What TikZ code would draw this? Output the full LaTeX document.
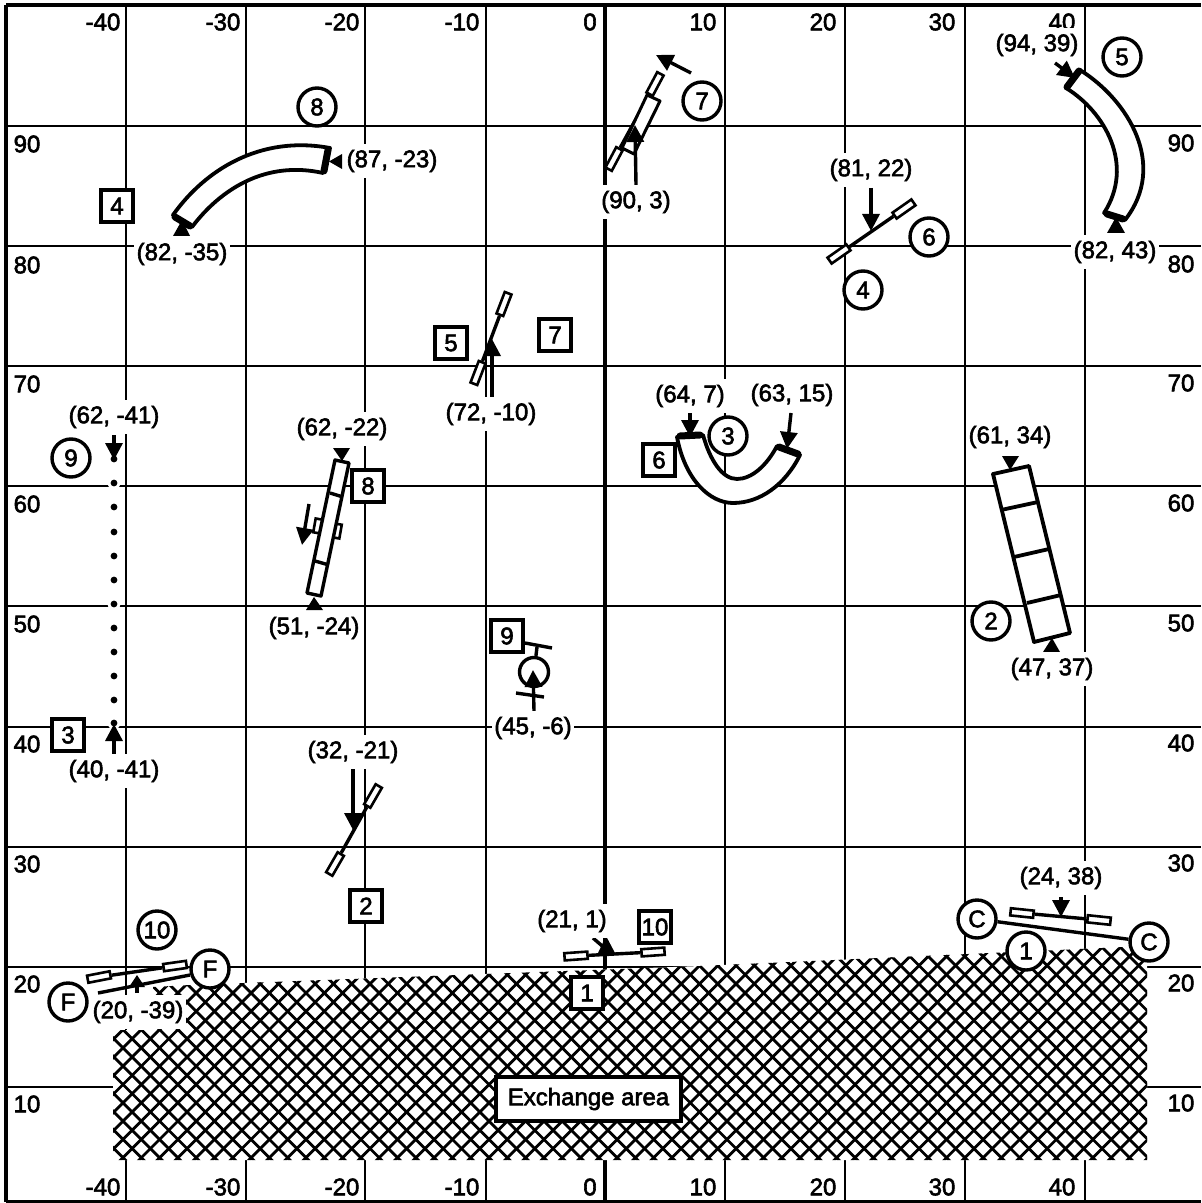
\documentclass[tikz,border=0pt]{standalone}
\usepackage{fontspec}
\usetikzlibrary{arrows.meta}
\newfontfamily\labfont{Liberation Sans}[FakeBold=2.4]
\tikzset{
  x=0.5pt,y=-0.5pt,
  every node/.style={font=\labfont\fontsize{12}{14}\selectfont},
  gridline/.style={line width=1pt,black},
  axisline/.style={line width=1.6pt,black},
  gl/.style={inner sep=0pt},
  lab/.style={fill=white,inner xsep=1.25pt,inner ysep=3pt},
  cir/.style={circle,draw,line width=1.7pt,fill=white,minimum size=19pt,inner sep=0pt},
  sq/.style={rectangle,draw,line width=1.8pt,fill=white,minimum size=16pt,inner sep=0pt},
  railpad/.style={rectangle,draw,line width=1.3pt,fill=white,minimum width=11.5pt,minimum height=3.6pt,inner sep=0pt},
  rail/.style={line width=1.7pt},
  piece/.style={draw,line width=1.9pt,fill=white,line join=round},
  capbar/.style={line width=3.5pt,line cap=round},
  arr/.style={line width=1.7pt,-{Triangle[length=8.5pt,width=8.5pt]}},
  hatchline/.style={line width=1.4pt},
}
\newcommand{\arrw}[5]{\coordinate (#1a) at (#2,#3); \coordinate (#1b) at (#4,#5); \draw[arr] (#1a) -- (#1b);}
\begin{document}
\begin{tikzpicture}
\useasboundingbox (0,0) rectangle (1201,1203);
% grid
\foreach \gx in {126,246,365,486,725,845,965,1085}
  \draw[gridline] (\gx,5) -- (\gx,1202);
\foreach \gy in {126,246,366,486,606,727,847,967,1087}
  \draw[gridline] (6,\gy) -- (1201,\gy);
\draw[axisline] (605,5) -- (605,1202);
\draw[axisline] (6,5) -- (6,1202);
\draw[axisline] (6,5) -- (1201,5);
\draw[axisline] (6,1202) -- (1201,1202);
% grid numbers
\foreach \gx/\gt in {103/-40,223/-30,342/-20,462/-10,590/0,703/10,823/20,942/30,1062/40}{
  \node[gl] at (\gx,22) {\gt};
  \node[gl] at (\gx,1187) {\gt};}
\foreach \gy/\gt in {144/90,265/80,384/70,504/60,624/50,744/40,864/30,984/20,1104/10}{
  \node[gl] at (27,\gy) {\gt};
  \node[gl] at (1181,\gy-1) {\gt};}
% exchange area
\fill[white] (113,1030) -- (113,1160) -- (1147,1160) -- (1147,946) -- (700,966) -- (190,985) -- (153,987) -- (153,1030) -- cycle;
\begin{scope}
\clip (113,1030) -- (113,1160) -- (1147,1160) -- (1147,946) -- (700,966) -- (190,985) -- (153,987) -- (153,1030) -- cycle;
\foreach \k in {-14,...,57}
  \draw[hatchline] ({1280.7+\k*18.3-935},935) -- ({1280.7+\k*18.3-1170},1170);
\foreach \k in {-2,...,70}
  \draw[hatchline] ({-1034.7+\k*18.3+935},935) -- ({-1034.7+\k*18.3+1170},1170);
\end{scope}
\node[rectangle,draw,line width=1.8pt,fill=white,minimum width=92.5pt,minimum height=22pt,inner sep=0pt] (exch) at (588.5,1099) {Exchange area};
% ---- position 1 (C-C)
\node[cir] (c1) at (977,919) {C};
\node[cir] (c2) at (1149,942) {C};
\draw[rail] (c1) -- (c2);
\node[railpad,rotate=-6] (p1a) at (1022,913) {};
\node[railpad,rotate=-6] (p1b) at (1099,920) {};
\draw[rail] (p1a) -- (p1b);
\arrw{a1}{1061}{897}{1061}{917}
\node[lab] (l1) at (1061,878) {(24, 38)};
\node[cir] (n1) at (1026,951) {1};
% ---- position 2 (block)
\path[piece] (993,474) -- (1029,466) -- (1070,633) -- (1034,642) -- cycle;
\coordinate (b2a) at (1001,510); \coordinate (b2b) at (1038,502);
\coordinate (b2c) at (1014,557); \coordinate (b2d) at (1049,549);
\coordinate (b2e) at (1027,603); \coordinate (b2f) at (1061,595);
\draw[line width=1.9pt] (b2a) -- (b2b) (b2c) -- (b2d) (b2e) -- (b2f);
\fill (1002,456) -- (1019,456) -- (1010,470) -- cycle;
\fill (1043,652) -- (1060,652) -- (1052,638) -- cycle;
\node[lab] (l2a) at (1010,437) {(61, 34)};
\node[lab] (l2b) at (1052,669) {(47, 37)};
\node[cir] (n2) at (991,621) {2};
% ---- rail 2
\node[railpad,rotate=60] (p2a) at (335,864) {};
\node[railpad,rotate=60] (p2b) at (373,796) {};
\draw[rail] (p2a) -- (p2b);
\arrw{a2}{353}{769}{353}{830}
\node[lab] (l3) at (353,752) {(32, -21)};
\node[sq] (s2) at (366,906) {2};
% ---- dotted line 9/3
\foreach \dy in {483,604,723}
  \fill[white] (114,\dy) circle[radius=3.2pt];
\foreach \dy in {459,483,507,532,556,580,604,628,652,676,700,723}
  \fill[black] (114,\dy) circle[radius=1.7pt];
\arrw{a3}{114}{435}{114}{460}
\arrw{a4}{114}{755}{114}{724}
\node[lab] (l4) at (114,417) {(62, -41)};
\node[lab] (l5) at (114,771) {(40, -41)};
\node[cir] (n9) at (71,458) {9};
\node[sq] (s3) at (68,735) {3};
% ---- position 4 / 6
\node[railpad,rotate=35] (p4a) at (839,254) {};
\node[railpad,rotate=35] (p4b) at (904,209) {};
\draw[rail] (p4a) -- (p4b);
\arrw{a5}{871}{188}{871}{231}
\node[lab] (l6) at (871,170) {(81, 22)};
\node[cir] (n6) at (929,237) {6};
\node[cir] (n4) at (863,290) {4};
% ---- position 7
\node[railpad,rotate=62] (p7a) at (614,159) {};
\node[railpad,rotate=62] (p7b) at (655,84) {};
\draw[rail] (p7a) -- (p7b);
\path[piece,line width=1.5pt] (660,101) -- (647,95) -- (622,148) -- (634,154) -- cycle;
\arrw{a6}{636}{185}{635}{125}
\arrw{a7}{691}{73}{656}{55}
\node[lab] (l7) at (636,202) {(90, 3)};
\node[cir] (n7) at (702,101) {7};
% ---- position 5 / box 7
\node[railpad,rotate=69] (p5a) at (478,373) {};
\node[railpad,rotate=69] (p5b) at (504,304) {};
\draw[rail] (p5a) -- (p5b);
\arrw{a8}{492}{397}{492}{339}
\node[lab] (l8) at (491,414) {(72, -10)};
\node[sq] (s5) at (451,343) {5};
\node[sq] (s7) at (555,335) {7};
% ---- curved piece 8 / 4
\path[piece] (173,215) .. controls (205,170) and (260,135) .. (330,148) -- (323,173) .. controls (265,160) and (220,190) .. (192,227) -- cycle;
\draw[capbar] (175,217) -- (190,226);
\draw[capbar] (328,150) -- (324,171);
\fill (342,154) -- (342,169) -- (329,161.5) -- cycle;
\fill (173,236) -- (190,236) -- (182,220) -- cycle;
\node[lab] (l9) at (392,161) {(87, -23)};
\node[lab] (l10) at (182,254) {(82, -35)};
\node[cir] (n8) at (317,107) {8};
\node[sq] (s4) at (117,206) {4};
% ---- curved piece 5
\path[piece] (1080,70) .. controls (1128,100) and (1168,165) .. (1125,220) -- (1104,213) .. controls (1135,165) and (1105,112) .. (1066,88) -- cycle;
\draw[capbar] (1079,71) -- (1067,87);
\draw[capbar] (1107,214) -- (1123,219);
\fill (1107,233) -- (1125,233) -- (1116,217) -- cycle;
\node[lab] (l11) at (1037,45) {(94, 39)};
\arrw{a9}{1055}{63}{1075}{78}
\node[lab] (l12) at (1115,252) {(82, 43)};
\node[cir] (n5) at (1122,57) {5};
% ---- curved piece 3 / 6
\path[piece] (677,437) .. controls (685,480) and (710,503) .. (733,503) .. controls (760,503) and (785,485) .. (800,455) -- (777,446) .. controls (767,465) and (752,479) .. (737,479) .. controls (722,479) and (710,460) .. (703,435) -- cycle;
\draw[capbar] (680,436) -- (700,435);
\draw[capbar] (779,447) -- (798,454);
\arrw{a10}{690}{413}{690}{437}
\arrw{a11}{791}{413}{787}{449}
\node[lab] (l13) at (690,396) {(64, 7)};
\node[lab] (l14) at (792,395) {(63, 15)};
\node[cir] (n3) at (728,436) {3};
\node[sq] (s6) at (659,460) {6};
% ---- block 8
\node[railpad,rotate=80,minimum width=7pt] (p8a) at (318,526) {};
\node[railpad,rotate=80,minimum width=7pt] (p8b) at (337,531) {};
\path[piece,line width=1.7pt] (335,460) -- (349,463) -- (321,596) -- (307,593) -- cycle;
\coordinate (b8a) at (330,493); \coordinate (b8b) at (343,497);
\coordinate (b8c) at (315,561); \coordinate (b8d) at (329,565);
\draw[line width=1.7pt] (b8a) -- (b8b) (b8c) -- (b8d);
\arrw{a12}{309}{504}{302}{545}
\fill (333,448) -- (350,448) -- (342,461) -- cycle;
\fill (306,610) -- (323,610) -- (314,597) -- cycle;
\node[lab] (l15) at (342,429) {(62, -22)};
\node[lab] (l16) at (314,628) {(51, -24)};
\node[sq] (s8) at (368,486) {8};
% ---- position 9
\node[sq] (s9) at (507,636) {9};
\coordinate (t9a) at (525,643); \coordinate (t9b) at (552,648);
\draw[rail] (t9a) -- (t9b);
\node[circle,draw,line width=1.7pt,minimum size=14.5pt,inner sep=0pt,fill=white] (o9) at (534,672) {};
\coordinate (t9c) at (537,647);
\draw[rail] (t9c) -- (o9);
\coordinate (t9d) at (516,693); \coordinate (t9e) at (544,697);
\draw[rail] (t9d) -- (t9e);
\arrw{a13}{534}{711}{533}{670}
\node[lab] (l17) at (533,728) {(45, -6)};
% ---- position 10 (rail above exchange)
\node[railpad,rotate=4] (p10a) at (576,956) {};
\node[railpad,rotate=4] (p10b) at (653,952) {};
\draw[rail] (p10a) -- (p10b);
\coordinate (a14a) at (593,938); \coordinate (a14b) at (608,951);
\draw[rail] (a14a) -- (a14b);
\fill (606,936) -- (598,953) -- (615,953) -- cycle;
\node[lab] (l18) at (572,921) {(21, 1)};
\node[sq] (s1) at (587,993) {1};
\node[sq] (s10) at (655,927) {10};
% ---- F-F
\node[cir] (f1) at (210,969) {F};
\node[cir] (f2) at (68,1002) {F};
\coordinate (f1c) at (190,975); \coordinate (f2c) at (98,993);
\draw[rail] (f1c) -- (f2c);
\node[railpad,rotate=11] (p11a) at (99,977) {};
\node[railpad,rotate=8] (p11b) at (175,966) {};
\draw[rail] (p11a) -- (p11b);
\coordinate (a15a) at (137,993); \coordinate (a15b) at (137,975);
\draw[rail] (a15a) -- (137,985);
\fill (137,975) -- (129,987) -- (145,987) -- cycle;
\node[lab] (l19) at (138,1012) {(20, -39)};
\node[cir] (n10) at (157,930) {10};
\end{tikzpicture}
\end{document}
